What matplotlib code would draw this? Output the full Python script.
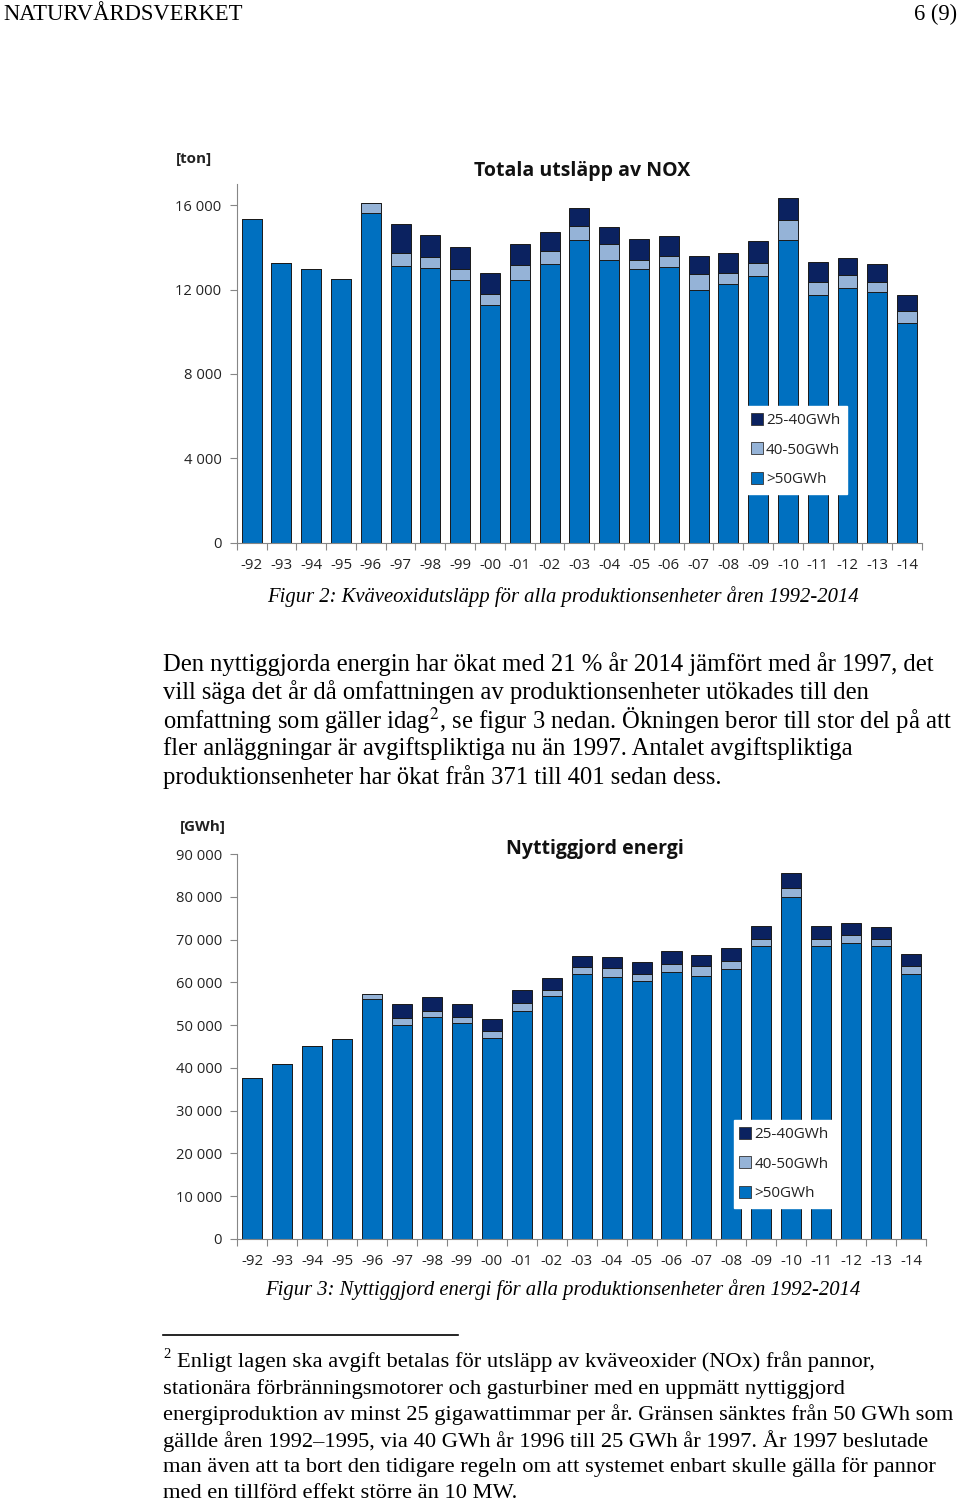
import numpy as np
import matplotlib
matplotlib.use("Agg")
import matplotlib.pyplot as plt
from matplotlib.ticker import FuncFormatter, FixedLocator
from matplotlib.lines import Line2D

years = ["-92", "-93", "-94", "-95", "-96", "-97", "-98", "-99", "-00", "-01", "-02", "-03",
         "-04", "-05", "-06", "-07", "-08", "-09", "-10", "-11", "-12", "-13", "-14"]

# NOX-utsläpp [ton]
nox_over50 = [15320, 13280, 12995, 12520, 15630, 13105, 13010, 12430, 11260, 12430, 13230, 14340,
              13390, 12950, 13060, 11970, 12285, 12665, 14340, 11730, 12050, 11875, 10405]
nox_40_50 = [0, 0, 0, 0, 470, 635, 540, 565, 550, 720, 585, 660,
             760, 470, 535, 755, 520, 615, 945, 650, 630, 505, 570]
nox_25_40 = [0, 0, 0, 0, 0, 1370, 1055, 1025, 980, 1030, 915, 850,
             820, 965, 930, 870, 935, 1040, 1055, 930, 820, 820, 755]

# Nyttiggjord energi [GWh]
en_over50 = [37600, 40950, 45000, 46720, 56080, 50000, 51870, 50390, 46880, 53270, 56860, 61850,
             61230, 60290, 62320, 61540, 63100, 68400, 79950, 68400, 69260, 68480, 61850]
en_40_50 = [0, 0, 0, 0, 1250, 1560, 1400, 1400, 1710, 1950, 1250, 1800,
            2180, 1640, 2030, 2180, 1790, 1720, 2180, 1720, 1720, 1720, 2030]
en_25_40 = [0, 0, 0, 0, 0, 3430, 3280, 3200, 2890, 2970, 2960, 2570,
            2490, 2880, 3040, 2730, 3120, 3120, 3510, 3120, 2880, 2730, 2730]

series_labels = ["25-40GWh", "40-50GWh", ">50GWh"]
c_base = "#0070C0"
c_light = "#95B3D7"
c_dark = "#0B2260"

W, H = 960, 1501
fig = plt.figure(figsize=(W / 100, H / 100), dpi=100)
fig.patch.set_facecolor("white")

SANS = ["Open Sans", "DejaVu Sans"]
SERIF = ["Liberation Serif", "DejaVu Serif"]
plt.rcParams["mathtext.fontset"] = "stix"


def px(x, y):
    return x / W, 1 - y / H


def stacked_chart(rect, base, mid, top, ymax, yticks, leg_anchor):
    ax = fig.add_axes(rect)
    x = np.arange(len(years))
    b1 = np.array(base)
    b2 = b1 + np.array(mid)
    ax.bar(x, base, width=0.67, color=c_base, edgecolor="#1a1a1a", linewidth=0.7, zorder=2)
    ax.bar(x, mid, bottom=b1, width=0.67, color=c_light, edgecolor="#1a1a1a", linewidth=0.7, zorder=2)
    ax.bar(x, top, bottom=b2, width=0.67, color=c_dark, edgecolor="#1a1a1a", linewidth=0.7, zorder=2)
    ax.set_xlim(-0.5, len(years) - 0.5)
    ax.set_ylim(0, ymax)
    ax.set_xticks(x)
    ax.set_xticklabels(years)
    ax.xaxis.set_minor_locator(FixedLocator(np.arange(-0.5, len(years), 1.0)))
    ax.tick_params(axis="x", which="major", length=0, pad=11, labelsize=10.8, labelcolor="#222222")
    ax.tick_params(axis="x", which="minor", length=5, color="#868686", width=0.8)
    ax.set_yticks(yticks)
    ax.yaxis.set_major_formatter(FuncFormatter(lambda v, p: f"{int(v):,}".replace(",", " ")))
    ax.tick_params(axis="y", length=5, color="#868686", width=0.8, pad=6,
                   labelsize=10.6, labelcolor="#222222")
    for lab in ax.get_xticklabels() + ax.get_yticklabels():
        lab.set_family(SANS)
    for s in ["top", "right"]:
        ax.spines[s].set_visible(False)
    for s in ["left", "bottom"]:
        ax.spines[s].set_color("#868686")
        ax.spines[s].set_linewidth(0.8)
    handles = [Line2D([], [], marker="s", linestyle="none", markersize=8,
                      markerfacecolor=c, markeredgecolor="#333333", markeredgewidth=0.6)
               for c in (c_dark, c_light, c_base)]
    leg = ax.legend(handles, series_labels, loc="lower left", bbox_to_anchor=leg_anchor,
                    frameon=True, fancybox=False, framealpha=1, edgecolor="white",
                    facecolor="white", handlelength=0.6, handletextpad=0.3,
                    labelspacing=0.95, borderpad=0.45, borderaxespad=0,
                    prop={"family": SANS, "size": 11})
    for t in leg.get_texts():
        t.set_color("#222222")
    leg.set_zorder(5)
    return ax


# Figur 2
stacked_chart([0.2466, 0.6384, 0.7138, 0.2390], nox_over50, nox_40_50, nox_25_40,
              17000, [0, 4000, 8000, 12000, 16000], (0.742, 0.136))
fig.text(*px(176, 159), "[ton]", family=SANS, fontweight="bold", fontsize=11,
         ha="left", va="center", color="#222222")
fig.text(*px(582, 171), "Totala utsläpp av NOX", family=SANS, fontweight="bold", fontsize=14,
         ha="center", va="center", color="#111111")

# Figur 3
stacked_chart([0.2472, 0.1747, 0.7174, 0.2563], en_over50, en_40_50, en_25_40,
              90000, list(range(0, 90001, 10000)), (0.721, 0.080))
fig.text(*px(180, 827), "[GWh]", family=SANS, fontweight="bold", fontsize=11,
         ha="left", va="center", color="#222222")
fig.text(*px(595, 849), "Nyttiggjord energi", family=SANS, fontweight="bold", fontsize=14,
         ha="center", va="center", color="#111111")

# Sidhuvud
fig.text(*px(3, 14), "NATURVÅRDSVERKET", family=SERIF, fontsize=16.3, ha="left", va="center")
fig.text(*px(957, 14), "6 (9)", family=SERIF, fontsize=16.3, ha="right", va="center")

# Figurtexter
fig.text(*px(563, 597), "Figur 2: Kväveoxidutsläpp för alla produktionsenheter åren 1992-2014",
         family=SERIF, style="italic", fontsize=14.9, ha="center", va="center")
fig.text(*px(563, 1290), "Figur 3: Nyttiggjord energi för alla produktionsenheter åren 1992-2014",
         family=SERIF, style="italic", fontsize=14.9, ha="center", va="center")

# Brödtext
body = [
    "Den nyttiggjorda energin har ökat med 21 % år 2014 jämfört med år 1997, det",
    "vill säga det år då omfattningen av produktionsenheter utökades till den",
    r"omfattning som gäller idag$^{2}$, se figur 3 nedan. Ökningen beror till stor del på att",
    "fler anläggningar är avgiftspliktiga nu än 1997. Antalet avgiftspliktiga",
    "produktionsenheter har ökat från 371 till 401 sedan dess.",
]
for line, y in zip(body, [664, 692, 720, 749, 777]):
    fig.text(*px(163, y), line, family=SERIF, fontsize=17.7, ha="left", va="center")

# Fotnot
fig.add_artist(Line2D([163 / W, 458 / W], [1 - 1335 / H] * 2, color="black", linewidth=1.2))
foot = [
    "Enligt lagen ska avgift betalas för utsläpp av kväveoxider (NOx) från pannor,",
    "stationära förbränningsmotorer och gasturbiner med en uppmätt nyttiggjord",
    "energiproduktion av minst 25 gigawattimmar per år. Gränsen sänktes från 50 GWh som",
    "gällde åren 1992–1995, via 40 GWh år 1996 till 25 GWh år 1997. År 1997 beslutade",
    "man även att ta bort den tidigare regeln om att systemet enbart skulle gälla för pannor",
    "med en tillförd effekt större än 10 MW.",
]
fig.text(*px(163, 1355), "2", family=SERIF, fontsize=10.5, ha="left", va="center")
for i, (line, y) in enumerate(zip(foot, [1362, 1389, 1415, 1441, 1467, 1493])):
    fig.text(*px(177 if i == 0 else 163, y), line, family=SERIF, fontsize=16.2,
             ha="left", va="center")

fig.savefig("out.png", dpi=100)
